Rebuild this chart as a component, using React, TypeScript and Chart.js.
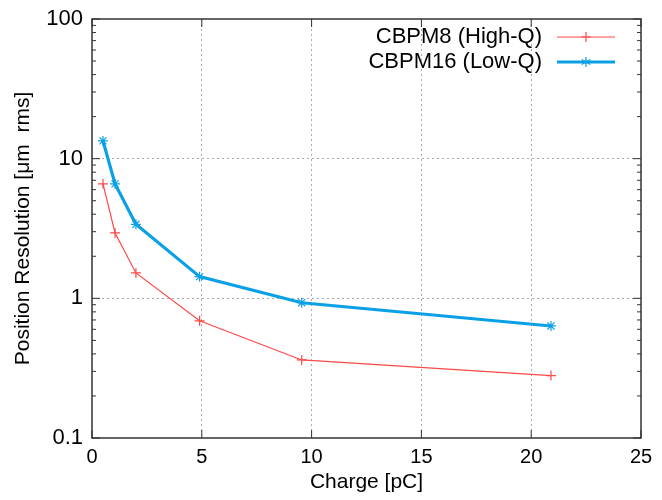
import React, { useEffect, useRef } from "react";
import { Chart, registerables } from "chart.js";

Chart.register(...registerables);

const charge = [0.5, 1.05, 2.0, 4.9, 9.55, 20.9];
const highQ = [6.6, 2.94, 1.52, 0.69, 0.362, 0.28];
const lowQ = [13.4, 6.6, 3.39, 1.43, 0.93, 0.634];
const yTicks = [0.1, 1, 10, 100];
const yTickLabels = ["0.1", "1", "10", "100"];
const seriesNames = ["CBPM8 (High-Q)", "CBPM16 (Low-Q)"];

const RED = "#ff4848";
const BLUE = "#0aa0e6";
const FONT = "'Liberation Sans', Arial, sans-serif";

const framePlugin = {
  id: "frame",
  afterDraw(chart: any) {
    const { ctx, chartArea: a, scales } = chart;
    const xs = scales.x;
    const ys = scales.y;
    ctx.save();
    ctx.strokeStyle = "#333";
    ctx.lineWidth = 1.5;
    ctx.strokeRect(a.left, a.top, a.right - a.left, a.bottom - a.top);
    ctx.lineWidth = 1;
    ctx.beginPath();
    for (let d = -1; d <= 2; d++) {
      for (let m = 1; m <= 9; m++) {
        const v = m * Math.pow(10, d);
        if (v > 100.0001) continue;
        const y = ys.getPixelForValue(v);
        const len = m === 1 ? 8 : 4;
        ctx.moveTo(a.left, y);
        ctx.lineTo(a.left + len, y);
        ctx.moveTo(a.right, y);
        ctx.lineTo(a.right - len, y);
      }
    }
    for (let v = 0; v <= 25; v += 5) {
      const x = xs.getPixelForValue(v);
      ctx.moveTo(x, a.bottom);
      ctx.lineTo(x, a.bottom - 8);
      ctx.moveTo(x, a.top);
      ctx.lineTo(x, a.top + 8);
    }
    ctx.stroke();

    const rows = [
      { name: seriesNames[0], color: RED, width: 1.2, marker: "plus", y: 37 },
      { name: seriesNames[1], color: BLUE, width: 3.2, marker: "star", y: 62 },
    ];
    ctx.font = `22px ${FONT}`;
    ctx.textAlign = "right";
    ctx.textBaseline = "middle";
    for (const r of rows) {
      ctx.fillStyle = "#000";
      ctx.fillText(r.name, 542, r.y);
      ctx.strokeStyle = r.color;
      ctx.lineWidth = r.width;
      ctx.beginPath();
      ctx.moveTo(557, r.y);
      ctx.lineTo(615, r.y);
      ctx.stroke();
      const cx = 586;
      const rr = 5;
      ctx.lineWidth = 1.2;
      ctx.beginPath();
      ctx.moveTo(cx, r.y - rr);
      ctx.lineTo(cx, r.y + rr);
      if (r.marker === "plus") {
        ctx.moveTo(cx - rr, r.y);
        ctx.lineTo(cx + rr, r.y);
      } else {
        ctx.moveTo(cx - rr * 0.85, r.y - rr * 0.5);
        ctx.lineTo(cx + rr * 0.85, r.y + rr * 0.5);
        ctx.moveTo(cx - rr * 0.85, r.y + rr * 0.5);
        ctx.lineTo(cx + rr * 0.85, r.y - rr * 0.5);
      }
      ctx.stroke();
    }
    ctx.restore();
  },
};

export default function App() {
  const ref = useRef<HTMLCanvasElement>(null);
  useEffect(() => {
    if (!ref.current) return;
    const chart = new Chart(ref.current, {
      type: "scatter",
      data: {
        datasets: [
          {
            label: seriesNames[0],
            data: charge.map((x, i) => ({ x, y: highQ[i] })),
            showLine: true,
            borderColor: RED,
            backgroundColor: RED,
            borderWidth: 1.2,
            pointStyle: "cross",
            pointRadius: 5,
            pointBorderWidth: 1.2,
          },
          {
            label: seriesNames[1],
            data: charge.map((x, i) => ({ x, y: lowQ[i] })),
            showLine: true,
            borderColor: BLUE,
            backgroundColor: BLUE,
            borderWidth: 3.2,
            pointStyle: "star",
            pointRadius: 5,
            pointBorderWidth: 1.2,
          },
        ],
      },
      options: {
        animation: false,
        responsive: false,
        layout: { padding: { left: 0, top: 19, right: 21, bottom: 0 } },
        plugins: { legend: { display: false }, tooltip: { enabled: false } },
        scales: {
          x: {
            type: "linear",
            min: 0,
            max: 25,
            ticks: {
              stepSize: 5,
              color: "#000",
              font: { family: FONT, size: 20 },
              padding: 7,
            },
            grid: {
              drawTicks: false,
              color: (c: any) =>
                c.tick && (c.tick.value === 0 || c.tick.value === 25) ? "rgba(0,0,0,0)" : "#aaa",
              lineWidth: 1,
            },
            border: { display: false, dash: [2, 3] },
            title: {
              display: true,
              text: "Charge [pC]",
              color: "#000",
              font: { family: FONT, size: 21 },
              padding: { top: 2, bottom: 5 },
            },
            afterFit: (s: any) => {
              s.height = 62;
              s.paddingLeft = 0;
              s.paddingRight = 0;
              s.paddingTop = 0;
              s.paddingBottom = 0;
            },
          },
          y: {
            type: "logarithmic",
            min: 0.1,
            max: 100,
            afterBuildTicks: (s: any) => {
              s.ticks = yTicks.map((v) => ({ value: v, major: true }));
            },
            ticks: {
              autoSkip: false,
              color: "#000",
              font: { family: FONT, size: 22 },
              padding: 9,
              callback: (v: any) => {
                const i = yTicks.findIndex((t) => Math.abs(t - Number(v)) < 1e-9);
                return i >= 0 ? yTickLabels[i] : "";
              },
            },
            grid: {
              drawTicks: false,
              color: (c: any) =>
                c.tick && (c.tick.value === 0.1 || c.tick.value === 100) ? "rgba(0,0,0,0)" : "#aaa",
              lineWidth: 1,
            },
            border: { display: false, dash: [2, 3] },
            title: {
              display: true,
              text: "Position Resolution [μm  rms]",
              color: "#000",
              font: { family: FONT, size: 21 },
              padding: { top: 11, bottom: 0 },
            },
            afterFit: (s: any) => {
              s.width = 92;
              s.paddingLeft = 0;
              s.paddingRight = 0;
              s.paddingTop = 0;
              s.paddingBottom = 0;
            },
          },
        },
      },
      plugins: [framePlugin],
    });
    return () => chart.destroy();
  }, []);
  return (
    <div style={{ position: "absolute", left: 0, top: 0, width: 662, height: 500, background: "#fff" }}>
      <canvas ref={ref} width={662} height={500} />
    </div>
  );
}
